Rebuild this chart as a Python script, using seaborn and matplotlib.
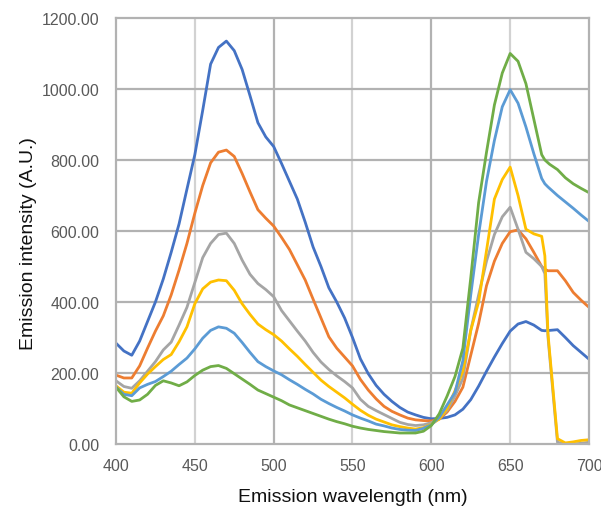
import matplotlib
matplotlib.use("Agg")
import matplotlib.pyplot as plt
import numpy as np
import pandas as pd
import seaborn as sns

# Emission wavelength grid (nm); 672 and 674 resolve the sharp cut-off near 673 nm
wavelength = [400, 405, 410, 415, 420, 425, 430, 435, 440, 445, 450, 455, 460, 465,
              470, 475, 480, 485, 490, 495, 500, 505, 510, 515, 520, 525, 530, 535,
              540, 545, 550, 555, 560, 565, 570, 575, 580, 585, 590, 595, 600, 605,
              610, 615, 620, 625, 630, 635, 640, 645, 650, 655, 660, 665, 670, 672,
              674, 675, 680, 685, 690, 695, 700]

series_1 = [284, 262, 250, 290, 345, 400, 465, 540, 620, 718, 815, 940, 1070, 1117,
            1135, 1108, 1055, 981, 905, 865, 838, 790, 740, 690, 625, 555, 500, 440,
            400, 355, 300, 240, 198, 165, 140, 120, 103, 90, 82, 75, 71, 72,
            75, 82, 98, 125, 163, 205, 245, 283, 318, 338, 345, 335, 320, 319,
            320, 320, 322, 300, 277, 258, 239]

series_2 = [194, 186, 186, 220, 270, 318, 361, 420, 490, 565, 650, 728, 792, 822,
            828, 810, 762, 710, 660, 636, 614, 582, 548, 505, 462, 408, 355, 302,
            270, 245, 220, 182, 152, 127, 106, 92, 82, 73, 68, 66, 65, 70,
            90, 120, 160, 250, 340, 446, 515, 565, 598, 603, 578, 540, 500, 492,
            488, 488, 488, 460, 427, 405, 385]

series_3 = [178, 162, 157, 178, 205, 232, 265, 287, 335, 385, 455, 525, 565, 590,
            594, 565, 518, 478, 452, 435, 415, 376, 347, 318, 290, 258, 231, 210,
            192, 176, 158, 126, 106, 94, 83, 72, 61, 55, 52, 54, 60, 72,
            95, 135, 185, 320, 420, 515, 590, 640, 667, 605, 540, 522, 500, 480,
            300, 250, 5, 0, 0, 2, 5]

series_4 = [164, 146, 143, 172, 197, 218, 238, 252, 288, 330, 395, 437, 456, 462,
            460, 433, 395, 365, 338, 322, 308, 290, 268, 247, 224, 202, 180, 162,
            146, 130, 112, 95, 81, 70, 62, 54, 49, 45, 42, 46, 56, 70,
            100, 150, 205, 320, 400, 545, 690, 745, 780, 700, 605, 592, 585, 530,
            310, 260, 15, 3, 6, 10, 12]

series_5 = [160, 140, 136, 158, 168, 176, 190, 205, 224, 242, 268, 298, 320, 330,
            326, 312, 286, 258, 232, 218, 206, 195, 181, 168, 154, 141, 126, 114,
            103, 93, 82, 73, 65, 56, 51, 45, 41, 39, 38, 44, 54, 75,
            110, 145, 235, 420, 590, 740, 855, 950, 998, 960, 893, 818, 748, 733,
            724, 720, 700, 682, 664, 645, 627]

series_6 = [160, 133, 120, 124, 140, 165, 178, 172, 164, 175, 193, 208, 218, 221,
            213, 198, 183, 168, 152, 142, 132, 122, 110, 102, 94, 86, 78, 70,
            63, 57, 50, 45, 41, 38, 35, 33, 31, 31, 31, 36, 52, 85,
            135, 190, 270, 468, 680, 822, 955, 1045, 1100, 1078, 1015, 915, 815, 800,
            792, 788, 773, 750, 733, 720, 708]

series_names = ["1", "2", "3", "4", "5", "6"]
series_colors = ["#4472C4", "#ED7D31", "#A5A5A5", "#FFC000", "#5B9BD5", "#70AD47"]

frames = []
for name, vals in zip(series_names,
                      [series_1, series_2, series_3, series_4, series_5, series_6]):
    frames.append(pd.DataFrame({"wavelength": wavelength, "intensity": vals,
                                "series": name}))
df = pd.concat(frames, ignore_index=True)

sns.set_style("white")
plt.rcParams["font.family"] = ["Liberation Sans", "DejaVu Sans"]

fig = plt.figure(figsize=(6.01, 5.10), dpi=100)
ax = fig.add_axes([116 / 601, 1 - 445 / 510, 473 / 601, 426 / 510])

# gridlines: lighter verticals at the half-steps
for x in [450, 550, 650]:
    ax.axvline(x, color="#d2d2d2", lw=1.6, zorder=0)
for x in [500, 600]:
    ax.axvline(x, color="#b2b2b2", lw=1.6, zorder=0)
for y in [200, 400, 600, 800, 1000]:
    ax.axhline(y, color="#b2b2b2", lw=1.6, zorder=0)

sns.lineplot(data=df, x="wavelength", y="intensity", hue="series",
             palette=series_colors, linewidth=2.0, legend=False, ax=ax,
             sort=False, estimator=None)
for line in ax.get_lines():
    line.set_solid_joinstyle("round")
    line.set_solid_capstyle("round")

ax.set_xlim(400, 700)
ax.set_ylim(0, 1200)
ax.set_xticks([400, 450, 500, 550, 600, 650, 700])
ax.set_yticks([0, 200, 400, 600, 800, 1000, 1200])
ax.set_yticklabels([f"{v:.2f}" for v in [0, 200, 400, 600, 800, 1000, 1200]])

for s in ax.spines.values():
    s.set_color("#b2b2b2")
    s.set_linewidth(1.6)

ax.tick_params(axis="both", length=0, labelsize=11.5, labelcolor="#595959")
ax.tick_params(axis="y", pad=12)
ax.tick_params(axis="x", pad=10)

ax.set_xlabel("Emission wavelength (nm)", fontsize=14, color="#111111")
ax.set_ylabel("Emission intensity (A.U.)", fontsize=14, color="#111111")
ax.xaxis.set_label_coords(0.5, -0.104)
ax.yaxis.set_label_coords(-0.168, 0.474)

fig.savefig("out.png", dpi=100)
